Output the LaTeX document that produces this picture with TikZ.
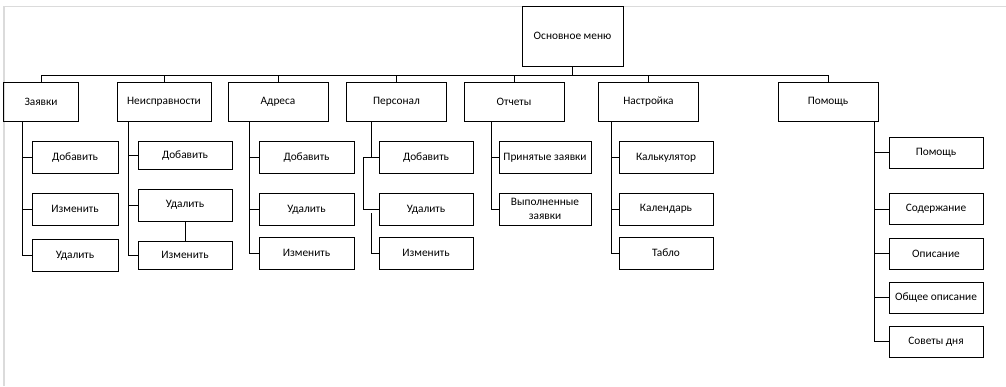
\documentclass[tikz,border=0pt]{standalone}
\usepackage{fontspec}
\setmainfont{Carlito}

\begin{document}
\begin{tikzpicture}[
  x=0.75pt, y=-0.75pt,
  box/.style={rectangle, draw, line width=0.6pt, align=center, inner sep=1pt,
              font=\fontsize{8.5}{10.5}\selectfont},
  head/.style={box, minimum width=75pt, minimum height=29.25pt},
  item/.style={box, minimum width=70.5pt, minimum height=24pt},
  link/.style={line width=0.6pt},
  frame/.style={draw=black!14, line width=1.2pt},
]
  \useasboundingbox (0,0) rectangle (1006,386);
  \draw[frame] (4,386) -- (4,6.5) -- (1006,6.5);

  % Root
  \node[box, minimum width=75.75pt, minimum height=45pt] (main) at (572.5,36) {Основное меню};

  % Row 1: menu heads
  \node[head, minimum width=56.25pt] (zay) at (41,101.5) {Заявки};
  \node[head] (neis) at (164,101.5) [minimum width=70.5pt] {Неисправности};
  \node[head] (adr) at (278,101.5) {Адреса};
  \node[head] (pers) at (396.5,101.5) {Персонал};
  \node[head] (otch) at (514,101.5) {Отчеты};
  \node[head] (nast) at (648.5,101.5) {Настройка};
  \node[head] (help) at (828,101.5) {Помощь};

  % Row 2: submenu items
  \node[item, minimum width=64.5pt] (zay1) at (75,157.5) {Добавить};
  \node[item, minimum width=64.5pt] (zay2) at (75,209) {Изменить};
  \node[item, minimum width=64.5pt] (zay3) at (75,255.5) {Удалить};

  \node[item, minimum height=21pt] (neis1) at (185,155.5) {Добавить};
  \node[item] (neis2) at (185,205) {Удалить};
  \node[item, minimum height=21pt] (neis3) at (185,255) {Изменить};

  \node[item, minimum width=71.25pt] (adr1) at (306.5,157.5) {Добавить};
  \node[item, minimum width=71.25pt] (adr2) at (306.5,209.3) {Удалить};
  \node[item, minimum width=71.25pt] (adr3) at (306.5,253.3) {Изменить};

  \node[item] (pers1) at (426,157.5) {Добавить};
  \node[item] (pers2) at (426,209.3) {Удалить};
  \node[item] (pers3) at (426,253.3) {Изменить};

  \node[item, minimum width=69pt] (otch1) at (545,157.5) {Принятые заявки};
  \node[item, minimum width=69pt] (otch2) at (545,209) {Выполненные\\заявки};

  \node[item] (nast1) at (666,157.5) {Калькулятор};
  \node[item] (nast2) at (666,209) {Календарь};
  \node[item] (nast3) at (666,253) {Табло};

  \node[item, minimum height=23.25pt] (help1) at (936,152.5) {Помощь};
  \node[item, minimum height=23.25pt] (help2) at (936,209) {Содержание};
  \node[item, minimum height=23.25pt] (help3) at (936,253.5) {Описание};
  \node[item, minimum height=23.25pt] (help4) at (936,297.5) {Общее описание};
  \node[item, minimum height=23.25pt] (help5) at (936,341.5) {Советы дня};

  % Bus from the root to the heads
  \coordinate (bus) at (0,75);
  \draw[link] (main.south) -- (main.south |- bus);
  \draw[link] (zay.north) -- (zay.north |- bus) -- (help.north |- bus) -- (help.north);
  \foreach \n in {neis,adr,pers,otch,nast}
    \draw[link] (\n.north) -- (\n.north |- bus);

  % Trunks to the submenu items
  \coordinate (zayT) at (22.7,0);
  \draw[link] (zay.south -| zayT) |- (zay3.west);
  \foreach \c in {zay1,zay2}
    \draw[link] (zayT |- \c.west) -- (\c.west);

  \coordinate (neisT) at (128,0);
  \draw[link] (neis.south -| neisT) |- (neis3.west);
  \foreach \c in {neis1,neis2}
    \draw[link] (neisT |- \c.west) -- (\c.west);
  \draw[link] (neis2.south) -- (neis3.north);

  \coordinate (adrT) at (249,0);
  \draw[link] (adr.south -| adrT) |- (adr3.west);
  \foreach \c in {adr1,adr2}
    \draw[link] (adrT |- \c.west) -- (\c.west);

  \coordinate (persT) at (371,0);
  \coordinate (persU) at (363,0);
  \draw[link] (pers.south -| persT) -- (persT |- pers1.west);
  \draw[link] (persU |- pers1.west) -- (pers1.west);
  \draw[link] (persU |- pers1.west) |- (pers2.west);
  \draw[link] (persT |- pers2.west) ++(0,4) |- (pers3.west);

  \coordinate (otchT) at (491,0);
  \draw[link] (otch.south -| otchT) |- (otch2.west);
  \draw[link] (otchT |- otch1.west) -- (otch1.west);

  \coordinate (nastT) at (611,0);
  \draw[link] (nast.south -| nastT) |- (nast3.west);
  \foreach \c in {nast1,nast2}
    \draw[link] (nastT |- \c.west) -- (\c.west);

  \coordinate (helpT) at (874,0);
  \draw[link] (help.south -| helpT) |- (help5.west);
  \foreach \c in {help1,help2,help3,help4}
    \draw[link] (helpT |- \c.west) -- (\c.west);
\end{tikzpicture}
\end{document}
